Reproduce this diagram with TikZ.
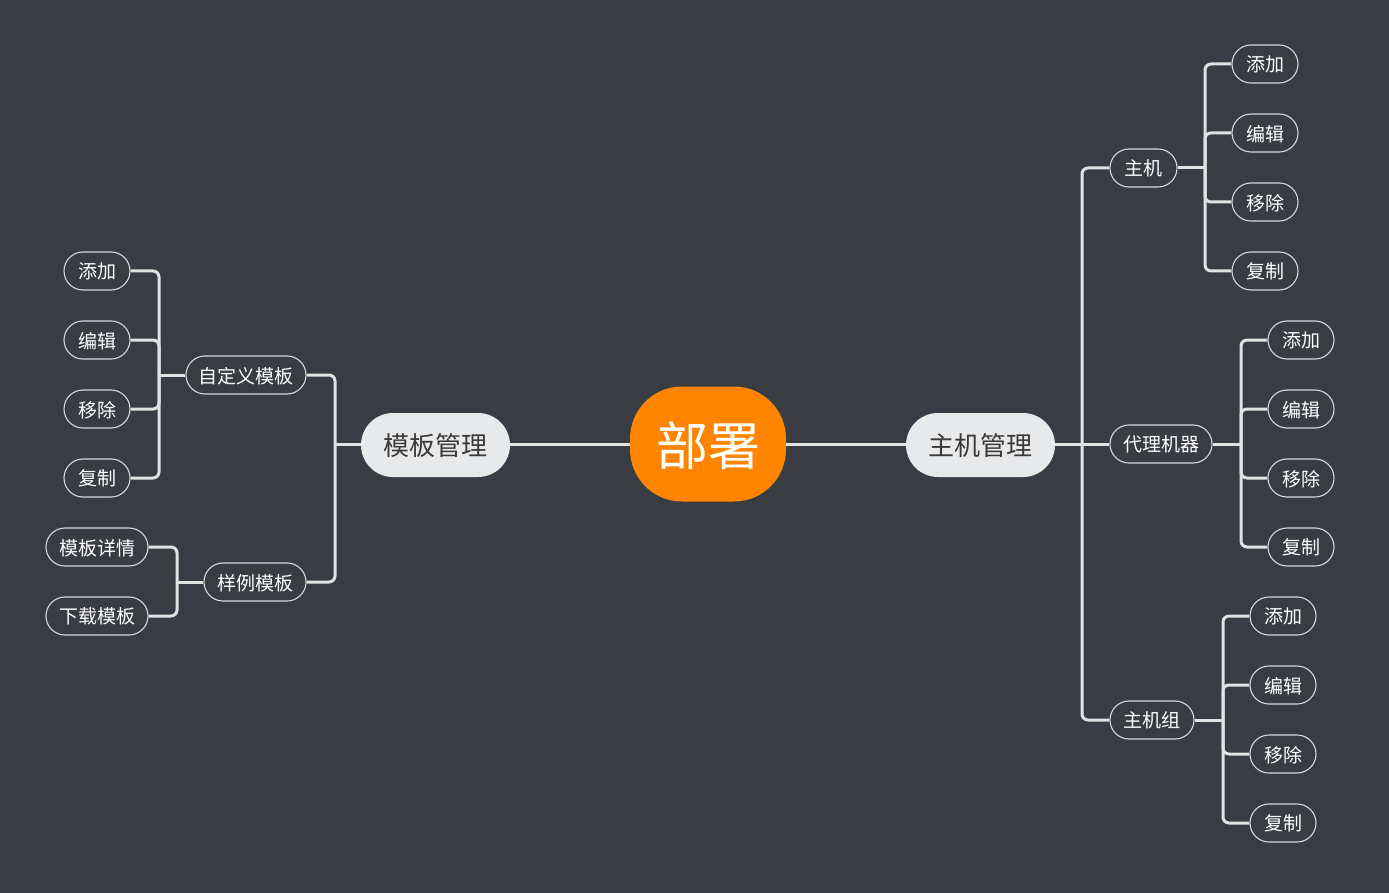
\documentclass[tikz,border=0pt]{standalone}
\usepackage{fontspec}
\setmainfont{Noto Sans CJK SC}
\definecolor{bg}{HTML}{393C42}
\definecolor{orangec}{HTML}{FF8500}
\definecolor{mainfill}{HTML}{E8E9EB}
\definecolor{maintext}{HTML}{3A3A3A}
\definecolor{linec}{HTML}{E2E2E2}
\definecolor{borderc}{HTML}{D8D8D8}
\tikzset{
  rootnode/.style={fill=orangec, text=white, rounded corners=52pt, minimum width=156pt, minimum height=115pt, inner sep=0pt, text depth=0pt, font=\fontsize{52}{52}\selectfont},
  mainnode/.style={fill=mainfill, text=maintext, rounded corners=32pt, minimum width=149pt, minimum height=64pt, inner sep=0pt, text depth=0pt, font=\fontsize{26}{26}\selectfont},
  subnode/.style={draw=borderc, line width=1.1pt, fill=bg, text=white, rounded corners=19pt, minimum height=38pt, inner sep=0pt, text depth=0pt, font=\fontsize{19}{19}\selectfont},
  conn/.style={draw=linec, line width=3pt, rounded corners=6pt},
}
\begin{document}
\begin{tikzpicture}[x=1pt,y=-1pt]
\fill[bg] (0,0) rectangle (1389,893);
\useasboundingbox (0,0) rectangle (1389,893);

% nodes
\node[rootnode] (root) at (708,444) {部署};
\node[mainnode] (hm) at (980.5,445) {主机管理};
\node[mainnode] (tm) at (435.5,445) {模板管理};

\node[subnode, minimum width=67pt] (zj) at (1143.5,168) {主机};
\node[subnode, minimum width=102pt] (dl) at (1161,444) {代理机器};
\node[subnode, minimum width=84pt] (zjz) at (1152,720) {主机组};

\node[subnode, minimum width=66pt] (zj1) at (1265,64) {添加};
\node[subnode, minimum width=66pt] (zj2) at (1265,133) {编辑};
\node[subnode, minimum width=66pt] (zj3) at (1265,202) {移除};
\node[subnode, minimum width=66pt] (zj4) at (1265,271) {复制};

\node[subnode, minimum width=66pt] (dl1) at (1301,340) {添加};
\node[subnode, minimum width=66pt] (dl2) at (1301,409) {编辑};
\node[subnode, minimum width=66pt] (dl3) at (1301,478) {移除};
\node[subnode, minimum width=66pt] (dl4) at (1301,547) {复制};

\node[subnode, minimum width=66pt] (zz1) at (1283,616) {添加};
\node[subnode, minimum width=66pt] (zz2) at (1283,685) {编辑};
\node[subnode, minimum width=66pt] (zz3) at (1283,754) {移除};
\node[subnode, minimum width=66pt] (zz4) at (1283,823) {复制};

\node[subnode, minimum width=120pt] (zdy) at (246,375) {自定义模板};
\node[subnode, minimum width=102pt] (yl) at (255,582) {样例模板};

\node[subnode, minimum width=66pt] (zd1) at (97,271) {添加};
\node[subnode, minimum width=66pt] (zd2) at (97,340) {编辑};
\node[subnode, minimum width=66pt] (zd3) at (97,409) {移除};
\node[subnode, minimum width=66pt] (zd4) at (97,478) {复制};

\node[subnode, minimum width=102pt] (yl1) at (97,547) {模板详情};
\node[subnode, minimum width=102pt] (yl2) at (97,616) {下载模板};

% trunk coordinates
\coordinate (tR) at (1082,444);
\coordinate (tL) at (335,444);
\coordinate (tzj) at (1205,168);
\coordinate (tdl) at (1241,444);
\coordinate (tzz) at (1223,720);
\coordinate (tzd) at (159,375);
\coordinate (tyl) at (177,582);

% root connectors
\draw[draw=linec, line width=3pt] (root.east) -- (root.east -| hm.west);
\draw[draw=linec, line width=3pt] (root.west) -- (root.west -| tm.east);

% right side
\draw[conn] (hm.east |- tR) -- (tR);
\draw[conn] (tR) |- (zj.west);
\draw[conn] (tR) -- (dl.west);
\draw[conn] (tR) |- (zjz.west);

\draw[conn] (zj.east) -- (tzj);
\foreach \c in {zj1,zj2,zj3,zj4} \draw[conn] (tzj) |- (\c.west);
\draw[conn] (dl.east) -- (tdl);
\foreach \c in {dl1,dl2,dl3,dl4} \draw[conn] (tdl) |- (\c.west);
\draw[conn] (zjz.east) -- (tzz);
\foreach \c in {zz1,zz2,zz3,zz4} \draw[conn] (tzz) |- (\c.west);

% left side
\draw[conn] (tm.west |- tL) -- (tL);
\draw[conn] (tL) |- (zdy.east);
\draw[conn] (tL) |- (yl.east);

\draw[conn] (zdy.west) -- (tzd);
\foreach \c in {zd1,zd2,zd3,zd4} \draw[conn] (tzd) |- (\c.east);
\draw[conn] (yl.west) -- (tyl);
\foreach \c in {yl1,yl2} \draw[conn] (tyl) |- (\c.east);
\end{tikzpicture}
\end{document}
